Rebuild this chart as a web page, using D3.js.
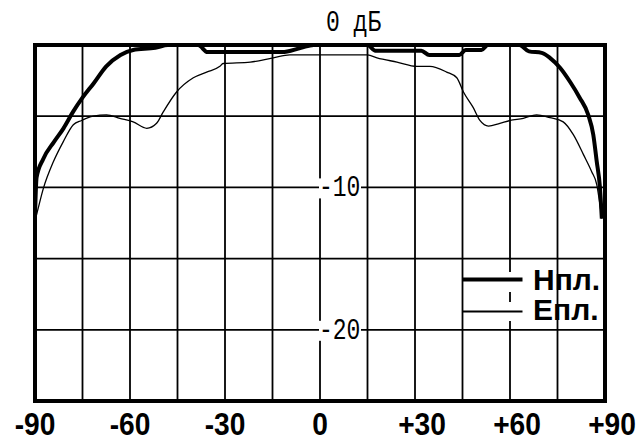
<!DOCTYPE html>
<html>
<head>
<meta charset="utf-8">
<script src="https://cdn.jsdelivr.net/npm/d3@7"></script>
<style>
  body { margin: 0; background: #fff; }
  svg { display: block; }
</style>
</head>
<body>
<script>
// chart size
const w = 643;
const h = 441;

// angle ticks and dB grid
const angleTicks = [-90, -75, -60, -45, -30, -15, 0, 15, 30, 45, 60, 75, 90];
const angleLabels = ["-90", "-60", "-30", "0", "+30", "+60", "+90"];
const angleLabelValues = [-90, -60, -30, 0, 30, 60, 90];
const dbTicks = [0, -5, -10, -15, -20, -25];
const dbLabels = ["-10", "-20"];
const dbLabelValues = [-10, -20];

// H-plane pattern (thick): angle, dB
const hAngle = [-90, -89.5, -87.4, -84, -81, -78, -75, -71.5, -67.5, -63, -59, -52, -48, -38.5, -35.5,
  -20, -12, -6, -2, 15, 17.5, 32, 34.5, 44, 46, 51, 53, 63, 66, 70, 72.6, 75.8, 79, 82, 84.7, 86.3, 87.4, 88.4, 89];
const hDb = [-12, -9.3, -8.0, -6.8, -5.85, -4.7, -3.7, -2.7, -1.5, -0.7, -0.35, -0.2, 0, 0, -0.5,
  -0.5, -0.5, -0.2, 0, 0, -0.4, -0.4, -0.7, -0.7, -0.35, -0.35, 0, 0, -0.45, -0.55, -0.9, -1.6, -2.6, -3.7, -4.9, -6.3, -8.2, -10, -12.2];

// E-plane pattern (thin): angle, dB
const eAngle = [-90, -89.5, -87.4, -84.2, -81.1, -77.9, -75.3, -71.6, -67.4, -63.2, -59, -54.7, -51.6, -49.5,
  -45.3, -40, -35.8, -31.6, -30.6, -22, -14.8, -9.5, 0, 15, 18, 24.3, 30.6, 34.7, 40, 43.2, 45.3, 48.4,
  50.5, 53.2, 56.8, 60, 64.2, 68.4, 72.6, 76.8, 80, 83.2, 85.8, 87.4, 88.4, 89];
const eDb = [-12.3, -11.9, -10.1, -8.2, -6.8, -5.6, -5.3, -5.0, -4.9, -5.15, -5.4, -5.85, -5.5, -4.7,
  -3.3, -2.3, -1.9, -1.5, -1.3, -1.2, -0.9, -0.7, -0.7, -0.7, -0.9, -1.2, -1.5, -1.5, -1.9, -2.3, -3.3, -4.4,
  -5.3, -5.7, -5.5, -5.3, -5.15, -4.9, -5.1, -5.4, -6.3, -7.7, -8.9, -9.8, -11.2, -12.2];

const legendNames = ["Нпл.", "Епл."];

const svg = d3.select("body")
  .append("svg")
  .attr("width", w)
  .attr("height", h);

const x = d3.scaleLinear().domain([-90, 90]).range([35, 605]);
const y = d3.scaleLinear().domain([0, -25]).range([45, 401]);

// grid
svg.append("g")
  .selectAll("line")
  .data(angleTicks)
  .join("line")
  .attr("x1", d => x(d)).attr("x2", d => x(d))
  .attr("y1", y(0)).attr("y2", y(-25))
  .attr("stroke", "#000")
  .attr("stroke-width", 1.8);

svg.append("g")
  .selectAll("line")
  .data(dbTicks)
  .join("line")
  .attr("x1", x(-90)).attr("x2", x(90))
  .attr("y1", d => y(d)).attr("y2", d => y(d))
  .attr("stroke", "#000")
  .attr("stroke-width", 1.8);

// dB labels with white boxes over the grid
const dbG = svg.append("g");
dbLabelValues.forEach((v, i) => {
  const ly = y(v);
  dbG.append("rect")
    .attr("x", x(0) - 1).attr("y", ly - 9)
    .attr("width", 42).attr("height", 20)
    .attr("fill", "#fff");
  dbG.append("text")
    .attr("transform", `translate(${x(0) - 1},${ly + 9}) scale(1,1.3)`)
    .attr("font-family", "Liberation Mono, monospace")
    .attr("font-size", 23)
    .attr("fill", "#000")
    .text(dbLabels[i]);
});

svg.append("text")
  .attr("transform", `translate(${x(0) + 6},${31}) scale(1,1.3)`)
  .attr("font-family", "Liberation Mono, monospace")
  .attr("font-size", 23)
  .attr("fill", "#000")
  .text("0 дБ");

// legend
const legX0 = x(45), legX1 = x(45) + 60;
svg.append("rect").attr("x", legX0 + 2).attr("y", 272).attr("width", legX1 - legX0 - 2).attr("height", 20).attr("fill", "#fff");
svg.append("rect").attr("x", legX0 + 2).attr("y", 302).attr("width", legX1 - legX0 - 2).attr("height", 19).attr("fill", "#fff");
svg.append("line").attr("x1", legX0).attr("x2", legX1).attr("y1", 279.5).attr("y2", 279.5)
  .attr("stroke", "#000").attr("stroke-width", 4);
svg.append("line").attr("x1", legX0).attr("x2", legX1).attr("y1", 311.5).attr("y2", 311.5)
  .attr("stroke", "#000").attr("stroke-width", 1.8);
svg.append("g")
  .selectAll("text")
  .data(legendNames)
  .join("text")
  .attr("x", 533)
  .attr("y", (d, i) => 290 + i * 30)
  .attr("font-family", "Liberation Sans, Arial, sans-serif")
  .attr("font-weight", "bold")
  .attr("font-size", 30)
  .attr("fill", "#000")
  .text(d => d);

// curves
const line = d3.line()
  .x(d => x(d[0]))
  .y(d => y(d[1]))
  .curve(d3.curveMonotoneX);

svg.append("path")
  .attr("d", line(eAngle.map((a, i) => [a, eDb[i]])))
  .attr("fill", "none")
  .attr("stroke", "#000")
  .attr("stroke-width", 1.3);

svg.append("path")
  .attr("d", line(hAngle.map((a, i) => [a, hDb[i]])))
  .attr("fill", "none")
  .attr("stroke", "#000")
  .attr("stroke-width", 4);

// frame
svg.append("rect")
  .attr("x", x(-90)).attr("y", y(0))
  .attr("width", x(90) - x(-90)).attr("height", y(-25) - y(0))
  .attr("fill", "none")
  .attr("stroke", "#000")
  .attr("stroke-width", 4);

// angle labels
svg.append("g")
  .selectAll("text")
  .data(angleLabelValues)
  .join("text")
  .attr("transform", d => `translate(${x(d) + (d > 0 ? 7 : 0)},435) scale(0.88,1)`)
  .attr("text-anchor", "middle")
  .attr("font-family", "Liberation Sans, Arial, sans-serif")
  .attr("font-weight", "bold")
  .attr("font-size", 32)
  .attr("fill", "#000")
  .text((d, i) => angleLabels[i]);
</script>
</body>
</html>
